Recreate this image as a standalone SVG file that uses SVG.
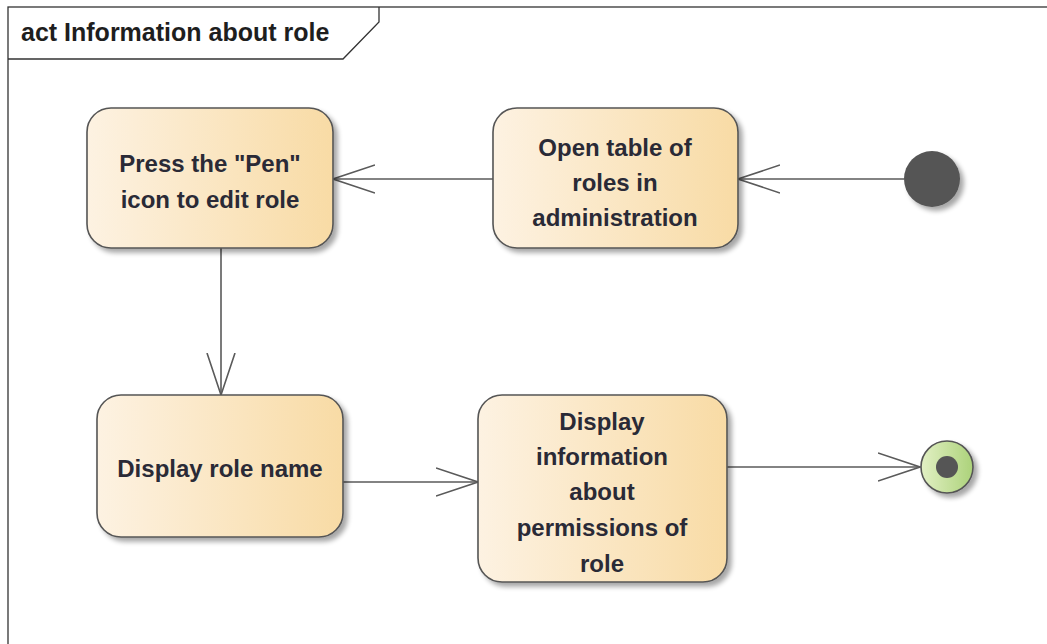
<svg xmlns="http://www.w3.org/2000/svg" width="1047" height="644" viewBox="0 0 1047 644">
<defs>
<linearGradient id="act" x1="0" y1="0" x2="1" y2="0">
<stop offset="0" stop-color="#fdf2e2"/>
<stop offset="1" stop-color="#f8dba5"/>
</linearGradient>
<linearGradient id="fin" x1="0" y1="0" x2="1" y2="0">
<stop offset="0" stop-color="#e2f0c4"/>
<stop offset="1" stop-color="#acd27a"/>
</linearGradient>
<filter id="sh" x="-20%" y="-20%" width="140%" height="140%">
<feGaussianBlur in="SourceAlpha" stdDeviation="2.5"/>
<feOffset dx="4" dy="4" result="b"/>
<feComponentTransfer><feFuncA type="linear" slope="0.35"/></feComponentTransfer>
<feMerge><feMergeNode/><feMergeNode in="SourceGraphic"/></feMerge>
</filter>
<marker id="open" markerWidth="44" markerHeight="32" refX="42" refY="16" orient="auto" markerUnits="userSpaceOnUse">
<path d="M0,2 L42,16 L0,30" fill="none" stroke="#5a5a5a" stroke-width="1.6"/>
</marker>
</defs>
<style>
.frame{fill:none;stroke:#333;stroke-width:1.3}
.node{fill:url(#act);stroke:#555;stroke-width:1.6}
.lbl{font-family:"Liberation Sans",Arial,sans-serif;font-weight:bold;font-size:24px;fill:#2a2a36;text-anchor:middle}
.title{font-family:"Liberation Sans",Arial,sans-serif;font-weight:bold;font-size:25px;fill:#1e1e1e}
.edge{fill:none;stroke:#5a5a5a;stroke-width:1.6;marker-end:url(#open)}
</style>
<rect width="1047" height="644" fill="#ffffff"/>
<g id="frame">
<rect class="frame" x="8" y="7" width="1100" height="700"/>
<path class="frame" d="M8,59 L343,59 L379,22 L379,7" fill="#fff"/>
<text class="title" x="21" y="41">act Information about role</text>
</g>
<g id="connectors">
<line class="edge" x1="904" y1="179" x2="738" y2="179"/>
<line class="edge" x1="493" y1="179" x2="333" y2="179"/>
<line class="edge" x1="221" y1="248" x2="221" y2="395"/>
<line class="edge" x1="343" y1="482" x2="478" y2="482"/>
<line class="edge" x1="727" y1="467" x2="920" y2="467"/>
</g>
<g id="initial">
<circle cx="932" cy="179" r="28" fill="#555" filter="url(#sh)"/>
</g>
<g id="n1">
<rect class="node" x="87" y="108" width="246" height="140" rx="24" filter="url(#sh)"/>
<text class="lbl" x="210" y="172">Press the "Pen"</text>
<text class="lbl" x="210" y="208">icon to edit role</text>
</g>
<g id="n2">
<rect class="node" x="493" y="108" width="245" height="140" rx="24" filter="url(#sh)"/>
<text class="lbl" x="615" y="156">Open table of</text>
<text class="lbl" x="615" y="191">roles in</text>
<text class="lbl" x="615" y="226">administration</text>
</g>
<g id="n3">
<rect class="node" x="97" y="395" width="246" height="142" rx="24" filter="url(#sh)"/>
<text class="lbl" x="220" y="477">Display role name</text>
</g>
<g id="n4">
<rect class="node" x="478" y="395" width="249" height="187" rx="24" filter="url(#sh)"/>
<text class="lbl" x="602" y="430">Display</text>
<text class="lbl" x="602" y="465">information</text>
<text class="lbl" x="602" y="500">about</text>
<text class="lbl" x="602" y="536">permissions of</text>
<text class="lbl" x="602" y="572">role</text>
</g>
<g id="final">
<circle cx="947" cy="467" r="26" fill="url(#fin)" stroke="#555" stroke-width="1.6" filter="url(#sh)"/>
<circle cx="947" cy="467" r="11" fill="#555"/>
</g>
</svg>
